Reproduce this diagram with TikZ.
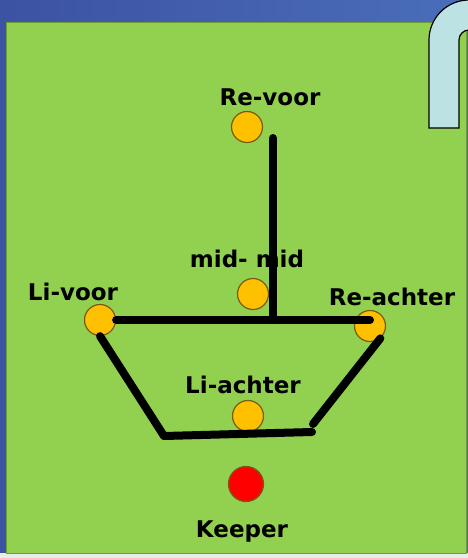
\documentclass[tikz,border=0pt]{standalone}
\usepackage{fontspec}
\setsansfont{DejaVu Sans}
\usepackage{tikz}
\usetikzlibrary{positioning}
\usepackage{xcolor}
\definecolor{slideleft}{HTML}{3C52A2}
\definecolor{slideright}{HTML}{4A6EBA}
\definecolor{pitchgreen}{HTML}{92D050}
\definecolor{pitchedge}{HTML}{6F9A3A}
\definecolor{goalblue}{HTML}{BCE2E4}
\definecolor{playerfill}{HTML}{FFC000}
\definecolor{playeredge}{HTML}{7A5A10}
\definecolor{keeperfill}{HTML}{FF0000}

\begin{document}
\begin{tikzpicture}[x=1pt,y=-1pt,
  player/.style={circle, draw=playeredge, line width=1.2pt, fill=playerfill,
                 minimum size=31pt, inner sep=0pt},
  keeper/.style={player, fill=keeperfill, minimum size=35pt},
  tag/.style={font=\sffamily\bfseries\fontsize{23}{27}\selectfont,
              inner sep=0pt, anchor=base},
  move/.style={line width=8pt, line cap=round, line join=round}]
\useasboundingbox (0,0) rectangle (468,558);
% slide background and pitch
\shade[left color=slideleft, right color=slideright] (0,0) rectangle (468,558);
\fill[black!8] (0,553) rectangle (468,558);
\draw[pitchedge, fill=pitchgreen, line width=1pt] (6,22) rectangle (466,553);
% goal post
\draw[fill=goalblue, line width=1.2pt]
  (429,128) -- (429,40) arc (180:270:40) -- (472,0) -- (472,30) -- (469,30)
  arc (270:180:10) -- (459,128) -- cycle;

% players
\node[player] (revoor)   at (247,127) {};
\node[player] (midmid)   at (253,294) {};
\node[player] (livoor)   at (100,320) {};
\node[player] (reachter) at (370,326) {};
\node[player] (liachter) at (248,416) {};
\node[keeper] (keeper)   at (246,484) {};

% names
\node[tag] (revoortag)   at (270,105) {Re-voor};
\node[tag] (midmidtag)   at (247,267) {mid- mid};
\node[tag] (livoortag)   at (73,300)  {Li-voor};
\node[tag] (reachtertag) at (392,305) {Re-achter};
\node[tag] (liachtertag) at (243,393) {Li-achter};
\node[tag] (keepertag)   at (242,537) {Keeper};

% movement lines
\coordinate (stemtop)   at (273,138);
\coordinate (stemfoot)  at (273,320);
\coordinate (lowleft)   at (164,436);
\coordinate (lowright)  at (312,432);
\coordinate (sideright) at (313,424);
\draw[move] (stemtop) -- (stemfoot);
\draw[move] (livoor.east) -- (livoor.east -| reachter.center);
\draw[move] (livoor.south) -- (lowleft) -- (lowright);
\draw[move] (sideright) -- (reachter.-50);
\end{tikzpicture}
\end{document}
